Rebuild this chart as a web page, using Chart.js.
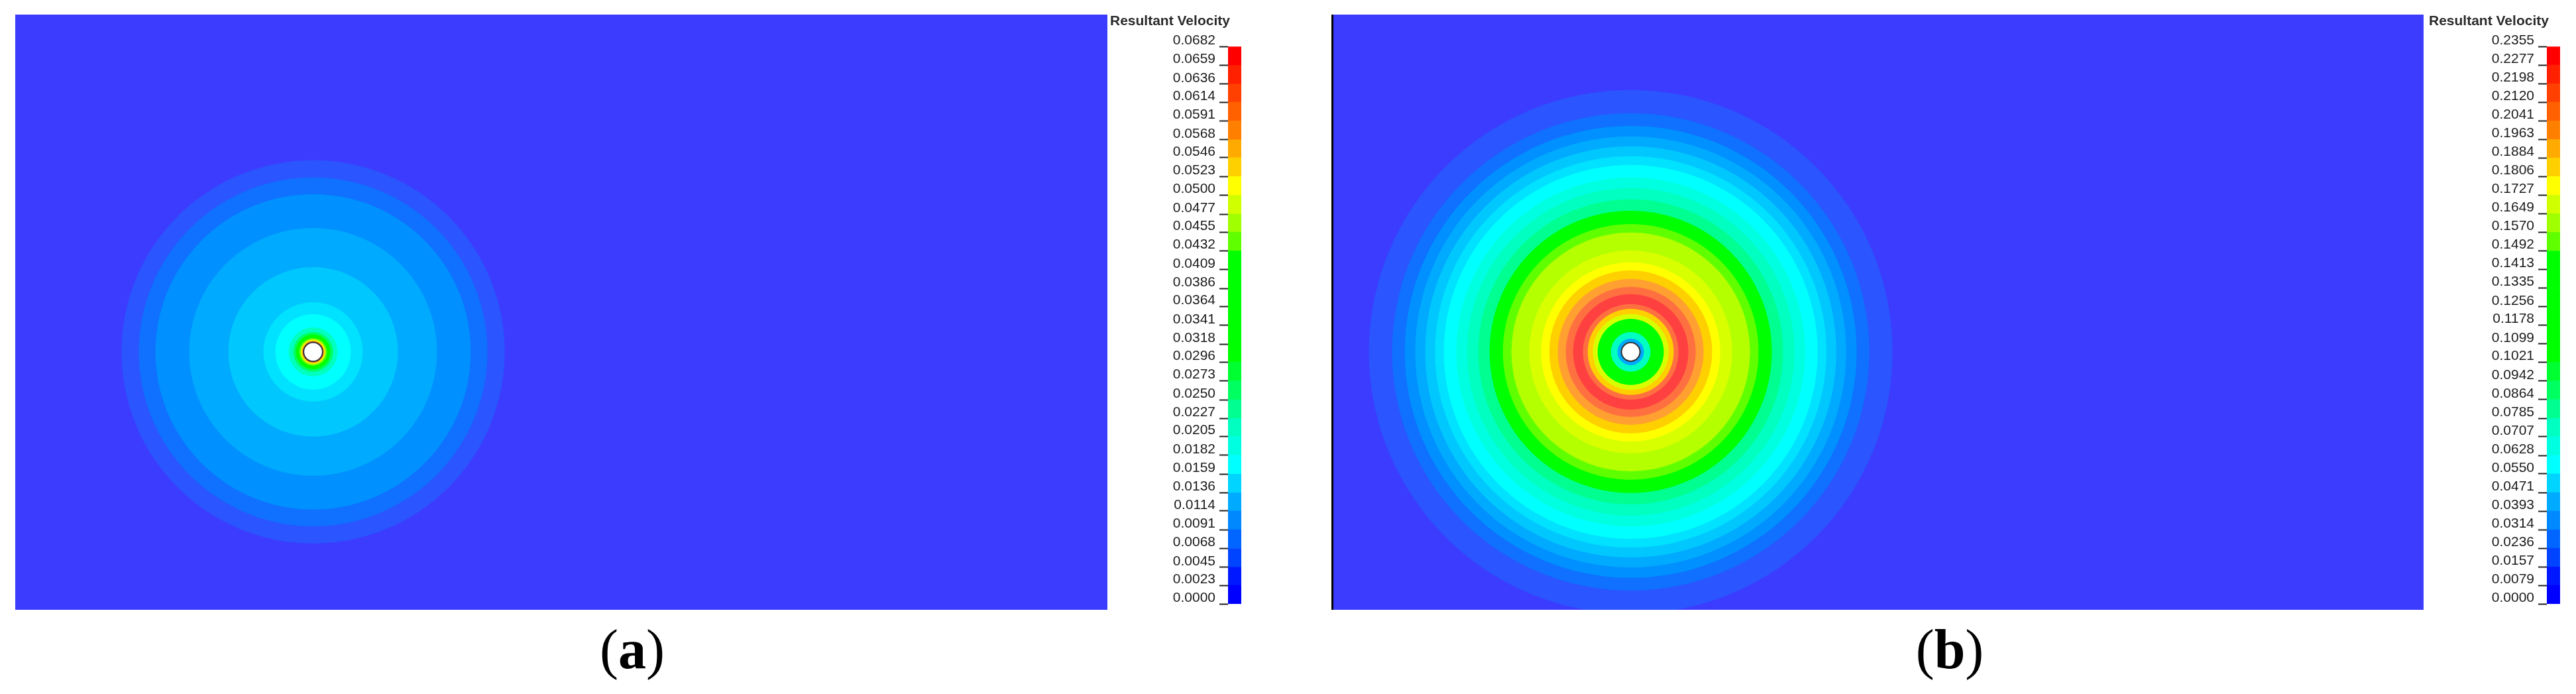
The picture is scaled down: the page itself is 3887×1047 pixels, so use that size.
<!DOCTYPE html>
<html lang="en">
  <head>
    <meta charset="utf-8">
    <title>Resultant Velocity</title>
    <style>
      body { margin: 0; background: #fff; width: 3887px; height: 1047px; position: relative; overflow: hidden; }
      .box { position: absolute; }
      .box canvas { display: block; }
      .cap { position: absolute; top: 938px; width: 400px; text-align: center; font-family: "Liberation Serif", "Times New Roman", serif; font-size: 84px; line-height: 84px; color: #000; }
    </style>
  </head>
  <body>
    <div class="box" style="left:23px;top:22px;"><canvas id="field-a" width="1648" height="898"></canvas></div>
    <div class="box" style="left:1675px;top:0;"><canvas id="bar-a" width="212" height="930"></canvas></div>
    <div class="box" style="left:2009px;top:22px;border-left:3px solid #000;"><canvas id="field-b" width="1645" height="898"></canvas></div>
    <div class="box" style="left:3665px;top:0;"><canvas id="bar-b" width="212" height="930"></canvas></div>
    <div class="cap" style="left:754px;">(<b>a</b>)</div>
    <div class="cap" style="left:2742px;">(<b>b</b>)</div>

    <script src="https://cdn.jsdelivr.net/npm/chart.js@4.4.1/dist/chart.umd.min.js"></script>
    <script>
    // colour bar tick labels (m/s), bottom to top
    const ticksA = [0.0000, 0.0023, 0.0045, 0.0068, 0.0091, 0.0114, 0.0136, 0.0159, 0.0182, 0.0205,
                    0.0227, 0.0250, 0.0273, 0.0296, 0.0318, 0.0341, 0.0364, 0.0386, 0.0409, 0.0432,
                    0.0455, 0.0477, 0.0500, 0.0523, 0.0546, 0.0568, 0.0591, 0.0614, 0.0636, 0.0659, 0.0682];
    const ticksB = [0.0000, 0.0079, 0.0157, 0.0236, 0.0314, 0.0393, 0.0471, 0.0550, 0.0628, 0.0707,
                    0.0785, 0.0864, 0.0942, 0.1021, 0.1099, 0.1178, 0.1256, 0.1335, 0.1413, 0.1492,
                    0.1570, 0.1649, 0.1727, 0.1806, 0.1884, 0.1963, 0.2041, 0.2120, 0.2198, 0.2277, 0.2355];

    // source position in the domain (0..55 x 0..30)
    const centre = [15, 13];

    // contour bands, outer radius and level index, outside to inside
    const ringRadiusA = [9.65, 8.78, 7.94, 6.24, 4.27, 2.50, 1.90, 1.23, 1.00, 0.87, 0.70, 0.63, 0.58, 0.53, 0.51];
    const ringLevelA  = [1, 2, 3, 4, 5, 6, 7, 9, 11, 14, 19, 21, 23, 26, 28];
    const holeA = 0.48;

    const ringRadiusB = [13.21, 12.04, 11.40, 10.87, 10.37, 9.87, 9.43, 8.80, 8.26, 7.69, 7.12, 6.45, 6.02,
                         5.12, 4.52, 4.11, 3.68, 3.28, 2.91, 2.41, 2.17, 1.91, 1.67, 1.00, 0.67];
    const ringLevelB  = [1, 2, 3, 4, 5, 6, 7, 8, 9, 10, 14, 19, 20,
                         21, 22, 23, 24, 26, 28, 26, 23, 21, 14, 9, 4];
    const holeB = 0.47;

    // legend colours, bottom to top
    const colormap = ['#0000ff', '#0018ff', '#0044ff', '#0066ff', '#0088ff', '#00aaff', '#00d4ff', '#00ffff',
                      '#00ffe0', '#00ffc0', '#00ff90', '#00ff60', '#00ff30', '#00ff00', '#00ff00', '#00ff00',
                      '#00ff00', '#00ff00', '#00ff00', '#60ff00', '#a0ff00', '#d0ff00', '#ffff00', '#ffd000',
                      '#ffaa00', '#ff8000', '#ff6000', '#ff4000', '#ff2000', '#ff0000'];
    // the shaded field looks a bit lighter than the legend
    const fieldPalette = ['#3c3cff', '#2a55ff', '#1070ff', '#0090ff', '#00aaff', '#00c8ff', '#00e2ff', '#00ffff',
                          '#00ffe0', '#00ffc0', '#00ff90', '#00ff60', '#00ff30', '#00ff00', '#00ff00', '#00ff00',
                          '#00ff00', '#00ff00', '#00ff00', '#60ff00', '#b4ff00', '#d8ff00', '#ffff00', '#ffd000',
                          '#ffa030', '#ff8840', '#ff7040', '#ff5840', '#ff4040', '#ff3030'];

    const fieldBg = {
      id: 'fieldBg',
      beforeDraw(chart) {
        const a = chart.chartArea;
        chart.ctx.save();
        chart.ctx.fillStyle = fieldPalette[0];
        chart.ctx.fillRect(a.left, a.top, a.right - a.left, a.bottom - a.top);
        chart.ctx.restore();
      }
    };

    // radius of a ring in pixels, taken from the x scale
    function ringPx(c) {
      if (!c.raw) return 0;
      const s = c.chart.scales.x;
      const px = Math.abs(s.getPixelForValue(c.raw.x + c.raw.rad) - s.getPixelForValue(c.raw.x));
      return isFinite(px) ? px : 0;
    }

    function setField(id, radii, levels, hole) {
      const pts = radii.map((r, i) => ({ x: centre[0], y: centre[1], rad: r, level: levels[i] }));
      pts.push({ x: centre[0], y: centre[1], rad: hole, level: -1 });
      return new Chart(document.getElementById(id), {
        type: 'scatter',
        data: {
          datasets: [{
            data: pts,
            clip: 0,
            showLine: false,
            pointStyle: 'circle',
            pointBackgroundColor: c => (!c.raw || c.raw.level < 0) ? '#fff' : fieldPalette[c.raw.level],
            pointBorderColor: c => (c.raw && c.raw.level < 0) ? '#333' : 'rgba(0,0,0,0)',
            pointBorderWidth: c => (c.raw && c.raw.level < 0) ? 2 : 0,
            pointRadius: ringPx
          }]
        },
        options: {
          responsive: false,
          animation: false,
          events: [],
          layout: { padding: 0 },
          plugins: { legend: { display: false }, tooltip: { enabled: false } },
          scales: {
            x: { type: 'linear', min: 0, max: 55, display: false },
            y: { type: 'linear', min: 0, max: 30, display: false }
          }
        },
        plugins: [fieldBg]
      });
    }

    function setBar(id, ticks) {
      const datasets = colormap.map((col, i) => ({
        data: [[ticks[i], ticks[i + 1]]],
        backgroundColor: col,
        borderWidth: 0,
        grouped: false,
        barPercentage: 1,
        categoryPercentage: 1
      }));
      return new Chart(document.getElementById(id), {
        type: 'bar',
        data: { labels: [''], datasets: datasets },
        options: {
          responsive: false,
          animation: false,
          events: [],
          layout: { padding: { left: 0, right: 14, top: 0, bottom: 17 } },
          plugins: {
            legend: { display: false },
            tooltip: { enabled: false },
            title: {
              display: true,
              text: 'Resultant Velocity',
              align: 'start',
              color: '#2a2a2a',
              font: { family: 'Liberation Sans', size: 21, weight: 'bold' },
              padding: { top: 20, bottom: 25 }
            }
          },
          scales: {
            x: { display: false },
            y: {
              position: 'left',
              min: 0,
              max: ticks[ticks.length - 1],
              afterBuildTicks: s => { s.ticks = ticks.map(v => ({ value: v })); },
              afterFit: s => { s.width = 178; },
              border: { display: false },
              grid: { drawOnChartArea: false, drawTicks: true, tickLength: 13, tickColor: '#222', tickWidth: 2 },
              ticks: {
                autoSkip: false,
                padding: 6,
                labelOffset: -9,
                color: '#1a1a1a',
                font: { family: 'Liberation Sans', size: 21 },
                callback: v => Number(v).toFixed(4)
              }
            }
          }
        }
      });
    }

    setField('field-a', ringRadiusA, ringLevelA, holeA);
    setBar('bar-a', ticksA);
    setField('field-b', ringRadiusB, ringLevelB, holeB);
    setBar('bar-b', ticksB);
    </script>
  </body>
</html>
